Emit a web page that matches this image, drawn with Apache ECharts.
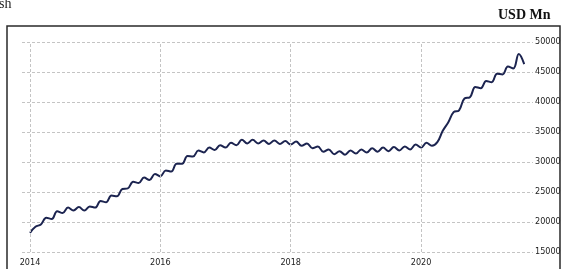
<!DOCTYPE html>
<html>
<head>
<meta charset="utf-8">
<script src="https://cdn.jsdelivr.net/npm/echarts@6/dist/echarts.min.js"></script>
<style>
  html, body { margin: 0; padding: 0; background: #fff; }
  #chart { width: 569px; height: 269px; }
</style>
</head>
<body>
<div id="chart"></div>
<script>
// monthly readings, Jan 2014 .. Aug 2021 (USD Mn)
const startYear = 2014;
const values = [
  18200, 19200, 19600, 20700, 20500, 21800, 21500, 22400, 21900, 22500, 21900, 22600,
  22400, 23500, 23300, 24400, 24300, 25500, 25600, 26700, 26500, 27400, 27000, 28000,
  27600, 28600, 28400, 29700, 29700, 31000, 30900, 31900, 31600, 32400, 32000, 32800,
  32400, 33200, 32800, 33700, 33100, 33700, 33100, 33600, 33000, 33600, 33000, 33500,
  32900, 33400, 32700, 33100, 32300, 32600, 31700, 32100, 31300, 31800, 31200, 31900,
  31400, 32100, 31600, 32300, 31700, 32400, 31800, 32500, 31900, 32600, 32100, 32900,
  32400, 33200, 32700, 33300, 35200, 36600, 38300, 38600, 40600, 40800, 42500, 42300,
  43500, 43300, 44700, 44600, 45900, 45600, 48000, 46300
];
const yearTicks = [2014, 2016, 2018, 2020];
const yTicks = [15000, 20000, 25000, 30000, 35000, 40000, 45000, 50000];

// month index -> decimal year position on the axis
const seriesData = values.map((v, i) => [startYear + i / 12, v]);

const chart = echarts.init(document.getElementById('chart'), null, { renderer: 'canvas' });

const gridStyle = { color: '#c4c4c4', width: 1, type: [3, 2] };
const labelFont = 'DejaVu Sans Condensed, DejaVu Sans, sans-serif';

chart.setOption({
  animation: false,
  backgroundColor: '#ffffff',
  grid: { left: 22, right: 36, top: 42, bottom: 17 },
  xAxis: {
    type: 'value',
    min: 2013.877,
    max: 2021.718,
    axisLine: { show: false },
    axisTick: { show: false },
    splitLine: { show: false },
    axisLabel: {
      customValues: yearTicks,
      formatter: v => String(v),
      fontFamily: labelFont,
      fontSize: 9,
      color: '#222',
      margin: 6
    }
  },
  yAxis: {
    type: 'value',
    position: 'right',
    min: yTicks[0],
    max: yTicks[yTicks.length - 1],
    interval: 5000,
    axisLine: { show: false },
    axisTick: { show: false },
    splitLine: { show: true, lineStyle: gridStyle },
    axisLabel: {
      formatter: v => String(v),
      fontFamily: labelFont,
      fontSize: 9,
      color: '#222',
      margin: 2
    }
  },
  series: [{
    type: 'line',
    data: seriesData,
    showSymbol: false,
    smooth: 0.4,
    lineStyle: { color: '#1c2450', width: 2 },
    markLine: {
      silent: true,
      symbol: 'none',
      label: { show: false },
      lineStyle: gridStyle,
      data: yearTicks.map(y => ({ xAxis: y }))
    }
  }],
  graphic: [
    {
      type: 'rect',
      shape: { x: 7, y: 26, width: 553, height: 260 },
      style: { fill: null, stroke: '#2a2a2a', lineWidth: 1.5 }
    },
    {
      type: 'text',
      left: 498, top: 8,
      style: { text: 'USD Mn', font: 'bold 14px "Liberation Serif", serif', fill: '#111' }
    },
    {
      type: 'text',
      left: -1, top: -3,
      style: { text: 'sh', font: '14px "Liberation Serif", serif', fill: '#222' }
    }
  ]
});
</script>
</body>
</html>
